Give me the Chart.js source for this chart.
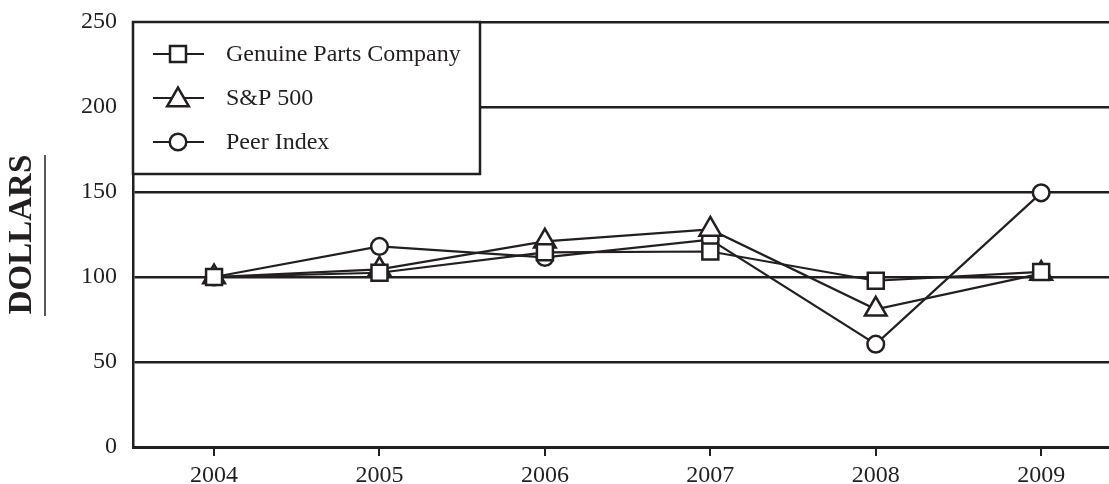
<!DOCTYPE html>
<html>
<head>
<meta charset="utf-8">
<script src="https://cdn.jsdelivr.net/npm/chart.js@4"></script>
<style>
  html, body { margin: 0; padding: 0; background: #ffffff; overflow: hidden; }
  #wrap { width: 1109px; height: 484px; position: relative; overflow: hidden; }
  #c { display: block; }
</style>
</head>
<body>
<div id="wrap"><canvas id="c" width="1124" height="484"></canvas></div>
<script>
const years = [2004, 2005, 2006, 2007, 2008, 2009];
const seriesNames = ['Genuine Parts Company', 'S&P 500', 'Peer Index'];
const genuineParts = [100, 102.5, 114.5, 115, 97.8, 103];
const sp500 = [100, 104.5, 121, 128, 81, 102];
const peerIndex = [100, 118, 111.5, 122, 60.5, 149.5];
const yTicks = [0, 50, 100, 150, 200, 250];
const yTitle = 'DOLLARS';

const INK = '#231f20';
const FONT = "'Liberation Serif', 'Times New Roman', serif";
const styles = [
  { pointStyle: 'rect', radius: 11.3 },
  { pointStyle: 'triangle', radius: 12.5 },
  { pointStyle: 'circle', radius: 8.3 }
];
const seriesValues = [genuineParts, sp500, peerIndex];

const datasets = seriesNames.map((name, i) => ({
  label: name,
  data: years.map((yr, j) => ({ x: yr, y: seriesValues[i][j] })),
  borderColor: INK,
  borderWidth: 2.2,
  backgroundColor: '#ffffff',
  pointStyle: styles[i].pointStyle,
  pointRadius: styles[i].radius,
  pointHoverRadius: styles[i].radius,
  pointBorderWidth: 2.5,
  pointBorderColor: INK,
  pointBackgroundColor: '#ffffff',
  tension: 0,
  fill: false
}));

const legendPlugin = {
  id: 'boxLegend',
  afterDraw(chart) {
    const ctx = chart.ctx;
    const area = chart.chartArea;
    const x0 = area.left, y0 = area.top, w = 347, h = 152;
    ctx.save();
    ctx.fillStyle = '#ffffff';
    ctx.fillRect(x0, y0, w, h);
    ctx.strokeStyle = INK;
    ctx.lineWidth = 2.5;
    ctx.strokeRect(x0, y0, w, h);
    const rows = [y0 + 32, y0 + 76, y0 + 120];
    seriesNames.forEach((name, i) => {
      const cy = rows[i];
      ctx.strokeStyle = INK;
      ctx.lineWidth = 2.2;
      ctx.beginPath();
      ctx.moveTo(x0 + 20, cy);
      ctx.lineTo(x0 + 71, cy);
      ctx.stroke();
      ctx.fillStyle = '#ffffff';
      ctx.lineWidth = 2.5;
      Chart.helpers.drawPoint(ctx, {
        pointStyle: styles[i].pointStyle,
        radius: styles[i].radius,
        borderWidth: 2.5
      }, x0 + 45, cy + (styles[i].pointStyle === 'triangle' ? 2 : 0));
      ctx.fillStyle = INK;
      ctx.font = "24px " + FONT;
      ctx.textBaseline = 'middle';
      ctx.textAlign = 'left';
      ctx.fillText(name, x0 + 93, cy + 1);
    });
    ctx.strokeStyle = INK;
    ctx.lineWidth = 1.5;
    ctx.beginPath();
    ctx.moveTo(45, 155);
    ctx.lineTo(45, 316);
    ctx.stroke();
    ctx.restore();
  }
};

new Chart(document.getElementById('c'), {
  type: 'line',
  data: { datasets },
  plugins: [legendPlugin],
  options: {
    responsive: false,
    animation: false,
    events: [],
    layout: { padding: { top: 22, right: 0, left: 0, bottom: 0 } },
    plugins: {
      legend: { display: false },
      tooltip: { enabled: false },
      title: { display: false }
    },
    scales: {
      x: {
        type: 'linear',
        min: 2003.51,
        max: 2009.41,
        afterBuildTicks(scale) { scale.ticks = years.map(v => ({ value: v })); },
        afterFit(scale) { scale.height = 37; scale.paddingLeft = 0; scale.paddingRight = 0; },
        ticks: {
          color: INK,
          font: { family: FONT, size: 24 },
          padding: 5,
          callback: (v) => String(v),
          maxRotation: 0,
          autoSkip: false
        },
        grid: {
          display: true,
          drawOnChartArea: false,
          drawTicks: true,
          tickLength: 9,
          color: INK,
          lineWidth: 2
        },
        border: { display: true, color: INK, width: 3 }
      },
      y: {
        min: 0,
        max: 250,
        afterBuildTicks(scale) { scale.ticks = yTicks.map(v => ({ value: v })); },
        afterFit(scale) { scale.width = 133; scale.paddingTop = 0; scale.paddingBottom = 0; },
        ticks: {
          color: INK,
          font: { family: FONT, size: 24 },
          padding: 16
        },
        grid: {
          display: true,
          drawTicks: false,
          color: INK,
          lineWidth: 2.5
        },
        border: { display: true, color: INK, width: 2.5 },
        title: {
          display: true,
          text: yTitle,
          color: INK,
          font: { family: FONT, size: 33, weight: 'bold' },
          padding: { top: 3, bottom: 0 }
        }
      }
    }
  }
});
</script>
</body>
</html>
